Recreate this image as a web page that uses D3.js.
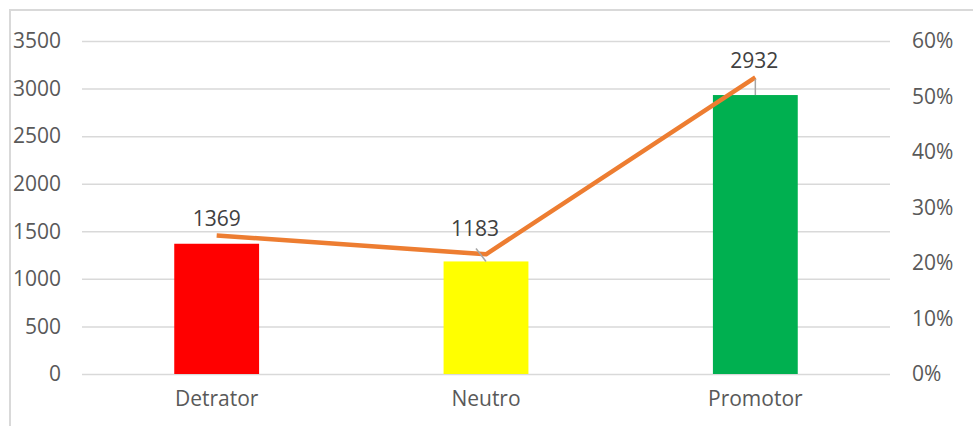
<!DOCTYPE html>
<html>
<head>
<meta charset="utf-8">
<script src="https://cdn.jsdelivr.net/npm/d3@7"></script>
<style>
  body { margin: 0; background: #fff; }
  svg { display: block; }
</style>
</head>
<body>
<div id="showBox"></div>
<script>
// data
const categories = ["Detrator", "Neutro", "Promotor"];
const counts = [1369, 1183, 2932];
const shares = [0.2496, 0.2157, 0.5346];
const barColors = ["#FF0000", "#FFFF00", "#00B050"];
const countTicks = [0, 500, 1000, 1500, 2000, 2500, 3000, 3500];
const shareTicks = [0, 0.1, 0.2, 0.3, 0.4, 0.5, 0.6];

// label nudges (dx, dy from bar top) - the labels were dragged in the original
const labelNudge = [[0, -25], [-11, -33], [-1, -34]];

const width = 973, height = 426;
const plot = {left: 82, right: 890, top: 41, bottom: 374};
const font = "'Open Sans', Roboto, sans-serif";
const fs = "21px";

const svg = d3.select("#showBox").append("svg")
    .attr("width", width)
    .attr("height", height)
    .style("font-family", font);

// chart frame (runs off the right and bottom of the picture)
svg.append("rect")
    .attr("x", 10).attr("y", 10)
    .attr("width", 1100).attr("height", 600)
    .attr("fill", "none")
    .attr("stroke", "#d9d9d9")
    .attr("stroke-width", 2);

const x = d3.scaleBand()
    .domain(categories)
    .range([plot.left, plot.right])
    .paddingInner(0.685)
    .paddingOuter(0.3425);

const y = d3.scaleLinear().domain([0, 3500]).range([plot.bottom, plot.top]);
const y2 = d3.scaleLinear().domain([0, 0.6]).range([plot.bottom, plot.top]);

// gridlines + left axis
const gy = svg.append("g")
    .attr("transform", `translate(${plot.left},0)`)
    .call(d3.axisLeft(y).tickValues(countTicks).tickSize(-(plot.right - plot.left)).tickPadding(21).tickFormat(d3.format("d")));
gy.select(".domain").remove();
gy.selectAll("line").attr("stroke", "#d9d9d9").attr("stroke-width", 1.5);
gy.selectAll("text").attr("fill", "#595959").style("font-size", fs).style("font-family", font);

// right axis
const gy2 = svg.append("g")
    .attr("transform", `translate(${plot.right},0)`)
    .call(d3.axisRight(y2).tickValues(shareTicks).tickSize(0).tickPadding(22).tickFormat(d3.format(".0%")));
gy2.select(".domain").remove();
gy2.selectAll("text").attr("fill", "#595959").style("font-size", fs).style("font-family", font);

// bars
svg.append("g").selectAll("rect")
    .data(categories)
    .join("rect")
    .attr("x", d => x(d))
    .attr("width", x.bandwidth())
    .attr("y", (d, i) => y(counts[i]))
    .attr("height", (d, i) => y(0) - y(counts[i]))
    .attr("fill", (d, i) => barColors[i]);

// bottom category axis
const gx = svg.append("g")
    .attr("transform", `translate(0,${plot.bottom})`)
    .call(d3.axisBottom(x).tickSize(0).tickPadding(17));
gx.select(".domain").remove();
gx.selectAll("text").attr("fill", "#595959").style("font-size", fs).style("font-family", font);

// share line
const line = d3.line()
    .x((d, i) => x(categories[i]) + x.bandwidth() / 2)
    .y(d => y2(d));

svg.append("path")
    .datum(shares)
    .attr("d", line)
    .attr("fill", "none")
    .attr("stroke", "#ED7D31")
    .attr("stroke-width", 4.5)
    .attr("stroke-linejoin", "round");

// leader lines for dragged labels
const lbl = svg.append("g");
categories.forEach((c, i) => {
    const cx = x(c) + x.bandwidth() / 2;
    const top = y(counts[i]);
    const lx = cx + labelNudge[i][0];
    const ly = top + labelNudge[i][1];
    if (i > 0) {
        lbl.append("line")
            .attr("x1", i == 2 ? cx : lx + 1).attr("y1", ly + (i == 2 ? 18 : 20))
            .attr("x2", cx).attr("y2", top)
            .attr("stroke", "#a6a6a6")
            .attr("stroke-width", 1.5);
    }
    lbl.append("text")
        .attr("x", lx)
        .attr("y", ly)
        .attr("dy", "0.35em")
        .attr("text-anchor", "middle")
        .attr("fill", "#404040")
        .style("font-size", fs)
        .text(counts[i]);
});
</script>
</body>
</html>
